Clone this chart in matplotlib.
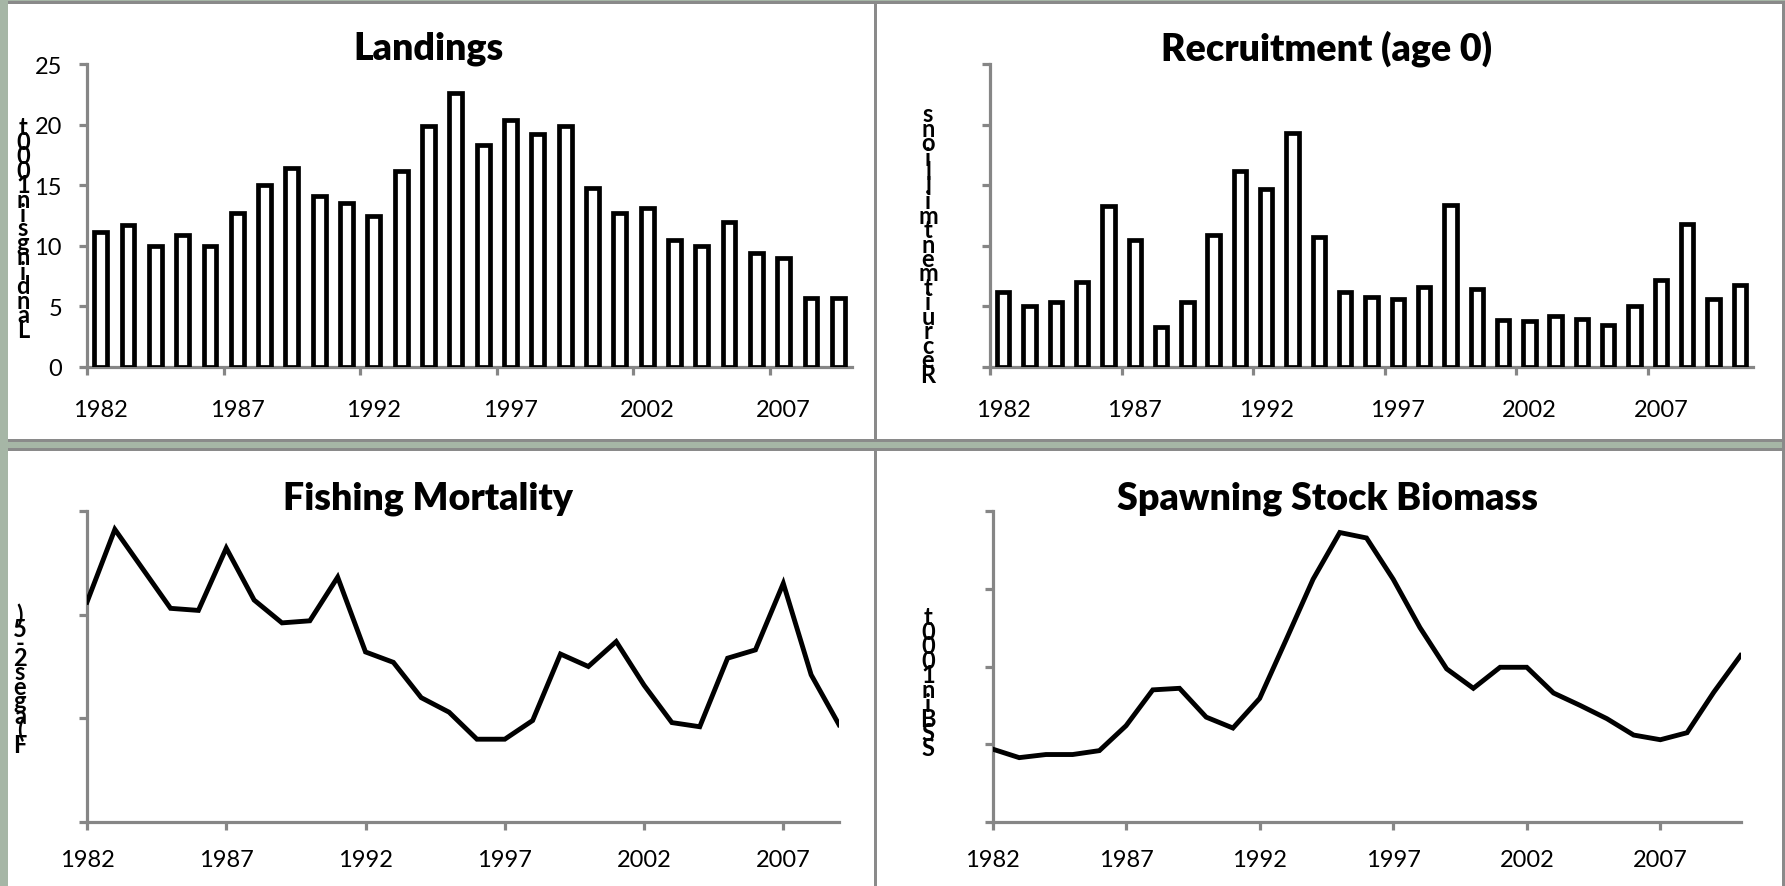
import matplotlib
matplotlib.use("Agg")
import matplotlib.pyplot as plt
from matplotlib.patches import Rectangle
import numpy as np

plt.rcParams['font.family'] = ['Lato', 'DejaVu Sans']

# ---------------- data ----------------
landing_years = list(range(1982, 2010))
landings = [11.1, 11.7, 10.0, 10.9, 10.0, 12.7, 15.0, 16.4, 14.1, 13.5, 12.5, 16.2,
            19.9, 22.6, 18.3, 20.4, 19.2, 19.9, 14.8, 12.7, 13.1, 10.5, 10.0, 12.0,
            9.4, 9.0, 5.7, 5.7]

recruit_years = list(range(1982, 2011))
recruitment = [6.2, 5.0, 5.4, 7.0, 13.3, 10.5, 3.3, 5.4, 10.9, 16.2, 14.7, 19.3,
               10.7, 6.2, 5.8, 5.6, 6.6, 13.4, 6.4, 3.9, 3.8, 4.2, 4.0, 3.5,
               5.0, 7.2, 11.8, 5.6, 6.8]

f_years = list(range(1982, 2010))
fishing_mortality = [1.06, 1.41, 1.22, 1.03, 1.02, 1.32, 1.07, 0.96, 0.97, 1.18,
                     0.82, 0.77, 0.60, 0.53, 0.40, 0.40, 0.49, 0.81, 0.75, 0.87,
                     0.66, 0.48, 0.46, 0.79, 0.83, 1.15, 0.71, 0.47]

ssb_years = list(range(1982, 2011))
ssb = [9.4, 8.3, 8.7, 8.7, 9.2, 12.4, 17.0, 17.2, 13.5, 12.1, 15.9, 23.5, 31.2,
       37.2, 36.5, 31.2, 25.0, 19.7, 17.2, 19.9, 19.9, 16.6, 15.0, 13.3, 11.2,
       10.6, 11.5, 16.7, 21.4]

titles = ["Landings", "Recruitment (age 0)", "Fishing Mortality", "Spawning Stock Biomass"]
ylabels = ["Landings in 1000t", "Recruitment millions", "F (ages 2-5)", "SSB in 1000t"]
landing_ticks = [0, 5, 10, 15, 20, 25]

# ---------------- layout ----------------
W, H = 1785, 887
fig = plt.figure(figsize=(W / 100, H / 100), dpi=100)
fig.patch.set_facecolor('#a6b6a6')
GRAY = '#8a8a8a'
AX_GRAY = '#868686'


def rect(x0, y0, x1, y1, color):
    fig.add_artist(Rectangle((x0 / W, 1 - y1 / H), (x1 - x0) / W, (y1 - y0) / H,
                             transform=fig.transFigure, facecolor=color,
                             edgecolor='none', zorder=-10))


rect(8, 5, 1782, 440, 'white')
rect(8, 452, 1782, 887, 'white')
rect(8, 2, 1785, 5, GRAY)
rect(8, 440, 1785, 443, GRAY)
rect(8, 449, 1785, 452, GRAY)
rect(1782, 2, 1785, 887, GRAY)
rect(874, 5, 877, 440, GRAY)
rect(874, 452, 877, 887, GRAY)


def add_ax(x0, x1, ytop, ybot):
    ax = fig.add_axes([x0 / W, 1 - ybot / H, (x1 - x0) / W, (ybot - ytop) / H])
    ax.set_facecolor('none')
    for s in ['top', 'right']:
        ax.spines[s].set_visible(False)
    for s in ['left', 'bottom']:
        ax.spines[s].set_color(AX_GRAY)
        ax.spines[s].set_linewidth(2.3)
    ax.tick_params(axis='both', which='major', color=AX_GRAY, width=2.3, length=6,
                   labelsize=17, labelcolor='black')
    return ax


def stacked(x, yc, text):
    fig.text(x / W, 1 - yc / H, "\n".join(reversed(text.replace(" ", ""))),
             ha='center', va='center', fontsize=17, linespacing=0.55,
             fontweight='bold', color='black')


def bar_panel(ax, years, vals, show_labels, pad):
    n = len(years)
    x = np.arange(n)
    ax.bar(x, vals, width=0.47, color='white', edgecolor='black', linewidth=3.4,
           zorder=3)
    ax.set_xlim(-0.5, n - 0.5)
    ax.set_ylim(0, 25)
    ax.set_yticks(landing_ticks)
    if show_labels:
        ax.set_yticklabels([str(v) for v in landing_ticks])
    else:
        ax.set_yticklabels([])
    ax.tick_params(axis='y', pad=12)
    ax.set_xticks(np.arange(-0.5, n - 1, 5))
    ax.set_xticklabels([])
    ax.set_xticks(np.arange(0, n, 5), minor=True)
    ax.set_xticklabels([str(years[i]) for i in range(0, n, 5)], minor=True)
    ax.tick_params(axis='x', which='minor', length=0, labelsize=17, pad=pad)


def line_panel(ax, years, vals, ymax, step, pad):
    n = len(years)
    x = np.arange(n)
    ax.plot(x, vals, color='black', linewidth=3.5, solid_joinstyle='miter', zorder=3)
    ax.set_xlim(0, n - 1)
    ax.set_ylim(0, ymax)
    ax.set_yticks(np.arange(0, ymax + step / 2, step))
    ax.set_yticklabels([])
    ax.set_xticks(np.arange(0, n, 5))
    ax.set_xticklabels([str(years[i]) for i in range(0, n, 5)])
    ax.tick_params(axis='x', pad=pad)
    ax.spines['left'].set_zorder(1)


ax1 = add_ax(87, 852, 65, 368)
bar_panel(ax1, landing_years, landings, True, 23)
ax2 = add_ax(990, 1753, 65, 368)
bar_panel(ax2, recruit_years, recruitment, False, 23)
ax3 = add_ax(87, 839, 511.7, 823.3)
line_panel(ax3, f_years, fishing_mortality, 1.5, 0.5, 13)
ax4 = add_ax(992.5, 1740.5, 511.7, 823.3)
line_panel(ax4, ssb_years, ssb, 40, 10, 13)

# titles
for (cx, cy), t in zip([(428, 49), (1327, 49), (428, 499), (1327, 499)], titles):
    fig.text(cx / W, 1 - cy / H, t, ha='center', va='center', fontsize=27,
             fontweight='heavy', color='black')

# stacked axis titles
stacked(23, 229, ylabels[0])
stacked(928, 245, ylabels[1])
stacked(20, 680, ylabels[2])
stacked(928, 683, ylabels[3])

fig.savefig("out.png", dpi=100, facecolor=fig.get_facecolor())
